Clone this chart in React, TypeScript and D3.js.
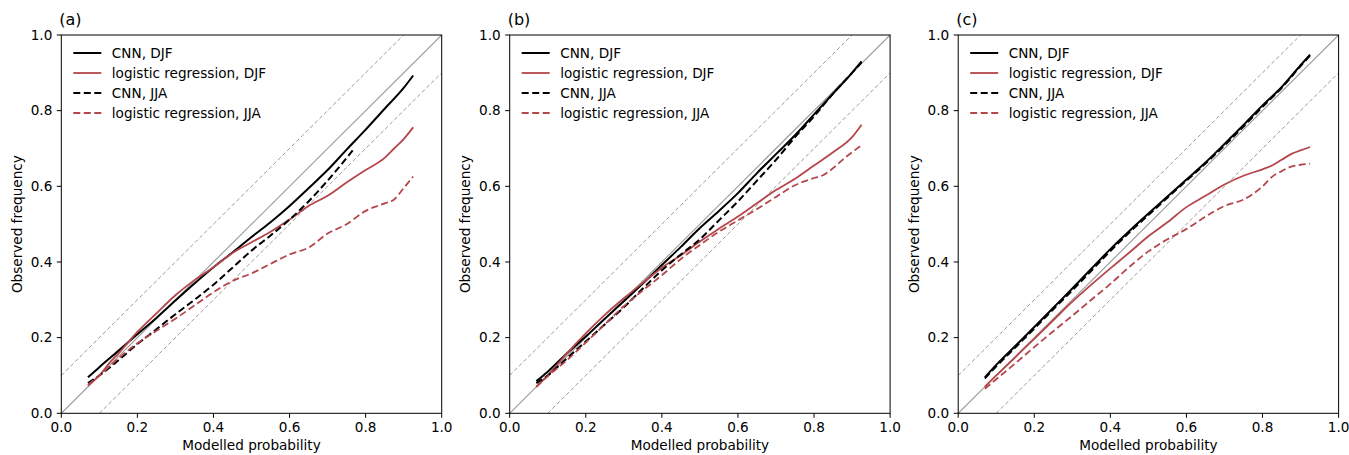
import * as d3 from 'd3';

type Pt = [number, number];

// panel (a)
const aCnnDjf: Pt[] = [[0.07,0.095],[0.1,0.122],[0.15,0.165],[0.2,0.209],[0.25,0.252],[0.3,0.298],[0.35,0.343],[0.4,0.386],[0.45,0.425],[0.5,0.466],[0.55,0.505],[0.6,0.548],[0.65,0.595],[0.7,0.643],[0.75,0.697],[0.8,0.75],[0.85,0.805],[0.9,0.86],[0.925,0.893]];
const aLrDjf: Pt[] = [[0.07,0.073],[0.1,0.1],[0.13,0.137],[0.15,0.158],[0.2,0.215],[0.25,0.264],[0.3,0.312],[0.35,0.352],[0.4,0.386],[0.45,0.424],[0.5,0.452],[0.55,0.48],[0.6,0.512],[0.65,0.548],[0.7,0.575],[0.75,0.61],[0.8,0.643],[0.85,0.675],[0.875,0.7],[0.9,0.725],[0.925,0.756]];
const aCnnJja: Pt[] = [[0.07,0.08],[0.1,0.1],[0.15,0.14],[0.2,0.183],[0.25,0.222],[0.3,0.262],[0.35,0.3],[0.4,0.34],[0.45,0.385],[0.5,0.43],[0.55,0.47],[0.6,0.512],[0.65,0.56],[0.7,0.615],[0.75,0.675],[0.77,0.7]];
const aLrJja: Pt[] = [[0.07,0.075],[0.1,0.1],[0.15,0.145],[0.2,0.185],[0.25,0.218],[0.3,0.25],[0.35,0.285],[0.4,0.32],[0.45,0.35],[0.5,0.37],[0.55,0.395],[0.6,0.42],[0.65,0.438],[0.7,0.475],[0.75,0.5],[0.8,0.535],[0.85,0.555],[0.875,0.565],[0.9,0.595],[0.925,0.626]];

// panel (b)
const bCnnDjf: Pt[] = [[0.07,0.085],[0.1,0.11],[0.15,0.158],[0.2,0.203],[0.25,0.25],[0.3,0.296],[0.35,0.343],[0.4,0.392],[0.45,0.44],[0.5,0.49],[0.55,0.535],[0.6,0.582],[0.65,0.635],[0.7,0.685],[0.75,0.735],[0.8,0.79],[0.85,0.845],[0.9,0.9],[0.925,0.93]];
const bLrDjf: Pt[] = [[0.07,0.07],[0.1,0.1],[0.15,0.158],[0.2,0.211],[0.25,0.26],[0.3,0.304],[0.35,0.345],[0.4,0.385],[0.45,0.418],[0.5,0.454],[0.55,0.488],[0.6,0.52],[0.65,0.555],[0.7,0.59],[0.75,0.62],[0.8,0.655],[0.85,0.69],[0.9,0.73],[0.925,0.763]];
const bCnnJja: Pt[] = [[0.07,0.08],[0.1,0.1],[0.15,0.145],[0.2,0.19],[0.25,0.235],[0.3,0.28],[0.35,0.33],[0.4,0.378],[0.45,0.42],[0.5,0.46],[0.55,0.51],[0.6,0.56],[0.65,0.615],[0.7,0.67],[0.75,0.73],[0.8,0.785],[0.85,0.845],[0.9,0.9],[0.925,0.928]];
const bLrJja: Pt[] = [[0.07,0.07],[0.1,0.098],[0.15,0.14],[0.2,0.187],[0.25,0.235],[0.3,0.283],[0.35,0.325],[0.4,0.365],[0.45,0.408],[0.5,0.445],[0.55,0.48],[0.6,0.51],[0.65,0.54],[0.7,0.572],[0.75,0.603],[0.8,0.622],[0.825,0.63],[0.85,0.648],[0.875,0.67],[0.9,0.69],[0.925,0.709]];

// panel (c)
const cCnnDjf: Pt[] = [[0.07,0.095],[0.1,0.128],[0.15,0.178],[0.2,0.228],[0.25,0.279],[0.3,0.33],[0.35,0.382],[0.4,0.434],[0.45,0.482],[0.5,0.528],[0.55,0.573],[0.6,0.618],[0.65,0.663],[0.7,0.712],[0.75,0.762],[0.8,0.814],[0.85,0.862],[0.9,0.92],[0.925,0.948]];
const cLrDjf: Pt[] = [[0.07,0.07],[0.1,0.1],[0.15,0.148],[0.2,0.197],[0.25,0.246],[0.3,0.295],[0.35,0.34],[0.4,0.383],[0.45,0.425],[0.5,0.468],[0.55,0.505],[0.6,0.545],[0.65,0.575],[0.7,0.605],[0.75,0.628],[0.8,0.645],[0.825,0.655],[0.85,0.67],[0.875,0.685],[0.9,0.695],[0.925,0.704]];
const cCnnJja: Pt[] = [[0.07,0.092],[0.1,0.124],[0.15,0.174],[0.2,0.224],[0.25,0.275],[0.3,0.325],[0.35,0.377],[0.4,0.429],[0.45,0.478],[0.5,0.524],[0.55,0.57],[0.6,0.615],[0.65,0.66],[0.7,0.708],[0.75,0.758],[0.8,0.81],[0.85,0.86],[0.9,0.918],[0.925,0.946]];
const cLrJja: Pt[] = [[0.07,0.065],[0.1,0.09],[0.15,0.132],[0.2,0.175],[0.25,0.217],[0.3,0.258],[0.35,0.3],[0.4,0.342],[0.45,0.387],[0.5,0.428],[0.55,0.46],[0.6,0.487],[0.65,0.52],[0.7,0.548],[0.75,0.565],[0.8,0.6],[0.825,0.625],[0.85,0.64],[0.875,0.652],[0.9,0.657],[0.925,0.66]];

const panelLabels = ['(a)', '(b)', '(c)'];
const panelData = [
  [aCnnDjf, aLrDjf, aCnnJja, aLrJja],
  [bCnnDjf, bLrDjf, bCnnJja, bLrJja],
  [cCnnDjf, cLrDjf, cCnnJja, cLrJja],
];
const seriesNames = ['CNN, DJF', 'logistic regression, DJF', 'CNN, JJA', 'logistic regression, JJA'];
const ticks = [0, 0.2, 0.4, 0.6, 0.8, 1.0];

const BLACK = '#000000';
const RED = '#b5464b';
const seriesColor = [BLACK, RED, BLACK, RED];
const seriesDash = [null, null, '7,3.5', '7,3.5'];

const W = 1349;
const H = 455;
const axW = 380.4;
const axH = 378.3;
const axTop = 35;
const axLefts = [61.3, 509.7, 958.2];
const FONT = 'DejaVu Sans, sans-serif';
const FS = 13.6;

function Panel({ idx }: { idx: number }) {
  const left = axLefts[idx];
  const x = d3.scaleLinear().domain([0, 1]).range([0, axW]);
  const y = d3.scaleLinear().domain([0, 1]).range([axH, 0]);
  const line = d3.line<Pt>().x(d => x(d[0])).y(d => y(d[1])).curve(d3.curveMonotoneX);
  const clipId = `clip-${idx}`;
  const refs: [Pt, Pt, string | null][] = [
    [[0, 0], [1, 1], null],
    [[0, 0.1], [0.9, 1], '4,2.5'],
    [[0.1, 0], [1, 0.9], '4,2.5'],
  ];
  return (
    <g transform={`translate(${left},${axTop})`}>
      <defs>
        <clipPath id={clipId}>
          <rect x={0} y={0} width={axW} height={axH} />
        </clipPath>
      </defs>
      <g clipPath={`url(#${clipId})`}>
        {refs.map((r, i) => (
          <line
            key={i}
            x1={x(r[0][0])}
            y1={y(r[0][1])}
            x2={x(r[1][0])}
            y2={y(r[1][1])}
            stroke={i === 0 ? '#999999' : '#9a9a9a'}
            strokeWidth={i === 0 ? 1.1 : 1}
            strokeDasharray={r[2] ?? undefined}
          />
        ))}
        {panelData[idx].map((s, i) => (
          <path
            key={i}
            d={line(s) ?? ''}
            fill="none"
            stroke={seriesColor[i]}
            strokeWidth={i % 2 === 0 ? 2 : 1.8}
            strokeDasharray={seriesDash[i] ?? undefined}
          />
        ))}
      </g>
      <rect x={0} y={0} width={axW} height={axH} fill="none" stroke="#000" strokeWidth={1} />
      {ticks.map(t => (
        <g key={`x${t}`} transform={`translate(${x(t)},${axH})`}>
          <line y2={4.5} stroke="#000" strokeWidth={1} />
          <text y={18.5} textAnchor="middle" fontSize={FS} fontFamily={FONT} fill="#000">
            {t.toFixed(1)}
          </text>
        </g>
      ))}
      {ticks.map(t => (
        <g key={`y${t}`} transform={`translate(0,${y(t)})`}>
          <line x2={-4.5} stroke="#000" strokeWidth={1} />
          <text x={-9} dy="0.35em" textAnchor="end" fontSize={FS} fontFamily={FONT} fill="#000">
            {t.toFixed(1)}
          </text>
        </g>
      ))}
      <text x={axW / 2} y={axH + 37} textAnchor="middle" fontSize={FS} fontFamily={FONT} fill="#000">
        Modelled probability
      </text>
      <text
        transform={`translate(${-39.5},${axH / 2}) rotate(-90)`}
        textAnchor="middle"
        fontSize={FS}
        fontFamily={FONT}
        fill="#000"
      >
        Observed frequency
      </text>
      <text x={-2} y={-10} fontSize={16} fontFamily={FONT} fill="#000">
        {panelLabels[idx]}
      </text>
      {seriesNames.map((name, i) => (
        <g key={name} transform={`translate(12,${18 + i * 20})`}>
          <line
            x1={0}
            x2={28}
            stroke={seriesColor[i]}
            strokeWidth={i % 2 === 0 ? 2 : 1.8}
            strokeDasharray={seriesDash[i] ?? undefined}
          />
          <text x={38.5} dy="0.35em" fontSize={FS} fontFamily={FONT} fill="#000">
            {name}
          </text>
        </g>
      ))}
    </g>
  );
}

export default function App() {
  return (
    <svg width={W} height={H} style={{ position: 'absolute', left: 0, top: 0, background: '#fff' }}>
      <rect width={W} height={H} fill="#fff" />
      {panelLabels.map((_, i) => (
        <Panel key={i} idx={i} />
      ))}
    </svg>
  );
}
